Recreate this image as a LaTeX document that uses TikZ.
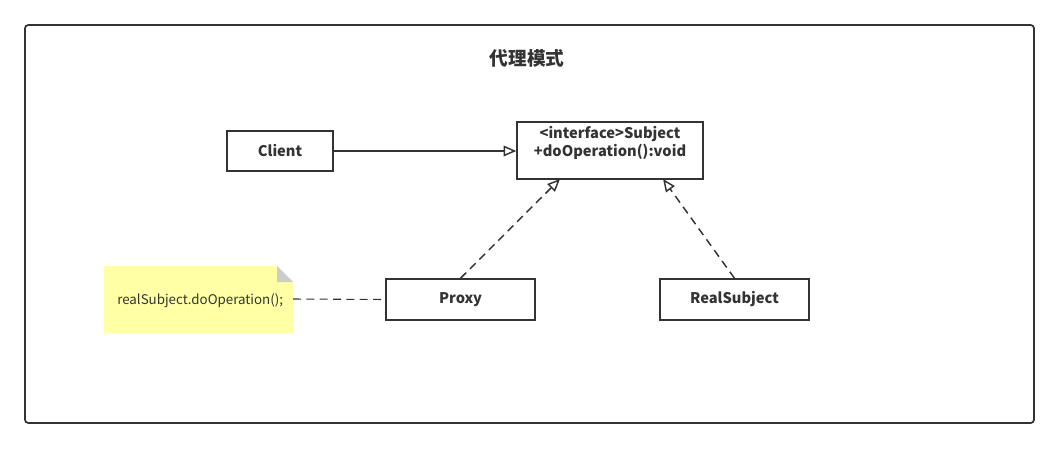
\documentclass[tikz,border=0pt]{standalone}
\usepackage{fontspec}
\setmainfont{Noto Sans CJK SC}
\usetikzlibrary{arrows.meta,calc}
\definecolor{ink}{HTML}{333333}
\definecolor{noteyellow}{HTML}{FFFFA6}
\definecolor{foldgray}{HTML}{CCCCCC}
\begin{document}
\begin{tikzpicture}[x=0.75pt,y=-0.75pt,
  umlbox/.style={draw=ink,line width=1.1pt,fill=white,inner sep=0pt,text=ink,font=\bfseries\fontsize{11}{13}\selectfont},
  conn/.style={draw=ink,line width=1.1pt},
  dashconn/.style={conn,dash pattern=on 6pt off 4pt},
  realize/.style={-{Triangle[open,length=9.5pt,width=8pt]}},
]
\useasboundingbox (0,0) rectangle (1059,449);
\draw[draw=ink,line width=1.3pt,rounded corners=2.5pt] (25,25) rectangle (1034,423);
\node[text=ink,font=\bfseries\fontsize{14}{16}\selectfont] (title) at (527,58) {代理模式};

\node[umlbox,minimum width=79.5pt,minimum height=30pt] (client) at (280,151) {\raisebox{-1pt}{Client}};
\node[umlbox,minimum width=139.5pt,minimum height=42.75pt] (subj) at (610,150.5) {};
\node[text=ink,font=\bfseries\fontsize{11}{14}\selectfont,align=center,inner sep=0pt] (subjtxt) at (610,143) {<interface>Subject\\+doOperation():void};
\node[umlbox,minimum width=111.75pt,minimum height=30.75pt] (proxy) at (460.5,299.5) {\raisebox{-1pt}{Proxy}};
\node[umlbox,minimum width=111.75pt,minimum height=30.75pt] (real) at (734.5,299.5) {\raisebox{-1pt}{RealSubject}};

% note
\fill[noteyellow] (104,266) -- (277,266) -- (293,282) -- (293,333) -- (104,333) -- cycle;
\fill[foldgray] (277,266) -- (277,282) -- (293,282) -- cycle;
\node[text=ink,font=\fontsize{10}{12}\selectfont,anchor=west,inner sep=0pt] (note) at (117,300.5) {realSubject.doOperation();};
\coordinate (noteR) at (293,299);

\coordinate (subjA) at (560,179);
\coordinate (subjB) at (663,179);

\draw[conn,realize] (client.east) -- (subj.west |- client.east);
\draw[dashconn,realize] (proxy.north) -- (subjA);
\draw[dashconn,realize] (real.north) -- (subjB);
\draw[draw=ink,line width=0.8pt,dash pattern=on 6pt off 4pt] (noteR) -- (proxy.west);
\end{tikzpicture}
\end{document}
